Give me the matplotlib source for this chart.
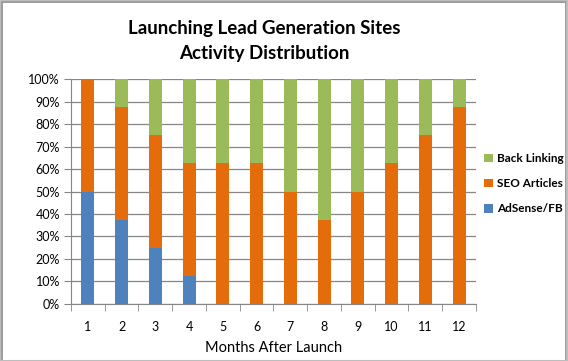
import numpy as np
import matplotlib.pyplot as plt
from matplotlib.patches import Rectangle
from matplotlib.ticker import PercentFormatter

# shares per month (in percent)
months = [str(m) for m in range(1, 13)]
adsense = [50, 37.5, 25, 12.5, 0, 0, 0, 0, 0, 0, 0, 0]
seo = [50, 50, 50, 50, 62.5, 62.5, 50, 37.5, 50, 62.5, 75, 87.5]
backlink = [0, 12.5, 25, 37.5, 37.5, 37.5, 50, 62.5, 50, 37.5, 25, 12.5]

plt.rcParams['font.family'] = ['Lato', 'DejaVu Sans']

fig = plt.figure(figsize=(5.68, 3.61), dpi=100)
# outer border with slight shadow
fig.patches.append(Rectangle((0.004, 0.0), 0.992, 0.994, transform=fig.transFigure,
                             fill=False, edgecolor='#8a8a8a', linewidth=1.2))
fig.patches.append(Rectangle((0.0, 0.0), 0.999, 0.999, transform=fig.transFigure,
                             fill=False, edgecolor='#bdbdbd', linewidth=1.5))

ax = fig.add_axes([0.125, 0.158, 0.713, 0.623])
x = np.arange(len(months))
w = 0.39
a = np.array(adsense)
s = np.array(seo)
b = np.array(backlink)
ax.bar(x, a, w, color='#4F81BD', label='AdSense/FB', zorder=3)
ax.bar(x, s, w, bottom=a, color='#E46C0A', label='SEO Articles', zorder=3)
ax.bar(x, b, w, bottom=a + s, color='#9BBB59', label='Back Linking', zorder=3)

ax.set_xlim(-0.5, len(months) - 0.5)
ax.set_ylim(0, 100)
ax.set_yticks(np.arange(0, 101, 10))
ax.yaxis.set_major_formatter(PercentFormatter(decimals=0))
ax.set_xticks(x)
ax.set_xticklabels(months)
ax.set_xticks(np.arange(-0.5, len(months), 1), minor=True)
ax.tick_params(axis='x', which='major', length=0, pad=12, labelsize=9)
ax.tick_params(axis='x', which='minor', length=5, color='#868686', direction='out')
ax.tick_params(axis='y', length=5, color='#868686', labelsize=9, pad=3)
ax.grid(axis='y', color='#868686', linewidth=0.9, zorder=0)
for side in ['top', 'right']:
    ax.spines[side].set_visible(False)
for side in ['left', 'bottom']:
    ax.spines[side].set_color('#868686')

ax.set_xlabel('Months After Launch', fontsize=10.5, labelpad=6)
fig.text(0.466, 0.945, 'Launching Lead Generation Sites\nActivity Distribution',
         ha='center', va='top', fontsize=13.5, fontweight='bold', linespacing=1.55)

h, l = ax.get_legend_handles_labels()
ax.legend(h[::-1], l[::-1], loc='center left', bbox_to_anchor=(1.0, 0.535),
          frameon=False, handlelength=0.75, handleheight=0.75,
          labelspacing=1.2, handletextpad=0.35, borderaxespad=0.3,
          prop={'weight': 'bold', 'size': 8.5})

fig.savefig('out.png', dpi=100)
